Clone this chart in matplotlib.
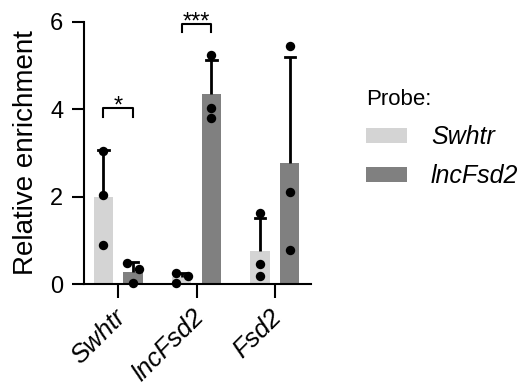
import numpy as np
import matplotlib
matplotlib.use("Agg")
import matplotlib.pyplot as plt
from matplotlib.patches import Patch
from matplotlib.transforms import ScaledTranslation

plt.rcParams['font.family'] = ['Liberation Sans', 'DejaVu Sans']

# Target loci (x-axis groups) and probes (bar series)
loci = ["Swhtr", "lncFsd2", "Fsd2"]
probes = ["Swhtr", "lncFsd2"]

# Individual replicate enrichments, per locus, per probe
swhtr_probe = [
    [3.04, 2.05, 0.89],   # Swhtr locus
    [0.25, 0.19, 0.04],   # lncFsd2 locus
    [1.63, 0.46, 0.19],   # Fsd2 locus
]
lncfsd2_probe = [
    [0.48, 0.34, 0.04],
    [5.24, 4.02, 3.79],
    [5.45, 2.11, 0.78],
]

# Horizontal spread of replicate dots inside each bar
swhtr_jitter = [[0.0, 0.0, 0.0], [-0.07, 0.08, -0.07], [0.0, 0.0, 0.0]]
lncfsd2_jitter = [[-0.08, 0.08, 0.0], [0.0, 0.0, 0.0], [0.0, 0.0, 0.0]]

# Significance annotations: (locus index, label, bracket height)
significance = [(0, "*", 4.03), (1, "***", 5.95)]

colors = ["#d4d4d4", "#808080"]
series = [swhtr_probe, lncfsd2_probe]
jitters = [swhtr_jitter, lncfsd2_jitter]

fig = plt.figure(figsize=(5.30, 3.89), dpi=100)
ax = fig.add_axes([0.1585, 0.269, 0.4275, 0.6757])

x = np.arange(len(loci))
width = 0.25
offsets = [-0.19, 0.19]

for vals, jit, col, off in zip(series, jitters, colors, offsets):
    arr = np.array(vals)
    means = arr.mean(axis=1)
    sds = arr.std(axis=1, ddof=1)
    pos = x + off
    ax.bar(pos, means, width=width, color=col, zorder=1)
    # upper-only SD error bars
    for p, m, sd in zip(pos, means, sds):
        ax.plot([p, p], [m, m + sd], color="black", lw=2, zorder=2,
                solid_capstyle="butt", clip_on=False)
        ax.plot([p - 0.065, p + 0.065], [m + sd, m + sd], color="black",
                lw=2, zorder=2, clip_on=False)
    for i, p in enumerate(pos):
        ax.scatter(p + np.array(jit[i]), arr[i], s=46, color="black",
                   zorder=3, clip_on=False, linewidths=0)

# significance brackets between the two probes of a locus
for idx, label, yb in significance:
    x0, x1 = idx + offsets[0], idx + offsets[1]
    ax.plot([x0, x0, x1, x1], [yb - 0.2, yb, yb, yb - 0.2], color="black",
            lw=1.5, clip_on=False)
    ax.text((x0 + x1) / 2, yb - 0.1, label, ha="center", va="baseline",
            fontsize=17, clip_on=False)

ax.set_xlim(-0.438, 2.457)
ax.set_ylim(0, 6)
ax.set_yticks([0, 2, 4, 6])
ax.set_xticks(x)
ax.set_xticklabels(loci, rotation=45, ha="right", rotation_mode="anchor",
                   fontstyle="italic", fontsize=18.5)
ax.tick_params(axis="y", labelsize=17, length=9, width=1.5, pad=6)
ax.tick_params(axis="x", length=10, width=1.5, pad=6)
ax.set_ylabel("Relative enrichment", fontsize=20, labelpad=8)

shift = ScaledTranslation(-0.05, 0.02, fig.dpi_scale_trans)
for lbl in ax.get_xticklabels():
    lbl.set_transform(lbl.get_transform() + shift)

for side in ["top", "right"]:
    ax.spines[side].set_visible(False)
for side in ["left", "bottom"]:
    ax.spines[side].set_linewidth(1.5)

handles = [Patch(facecolor=c, edgecolor="none") for c in colors]
leg = fig.legend(handles, probes, title="Probe:", loc="upper left",
                 bbox_to_anchor=(0.653, 0.822), frameon=False,
                 prop={"style": "italic", "size": 18}, title_fontsize=16,
                 handlelength=1.64, handleheight=0.56, handletextpad=0.96,
                 labelspacing=0.6, alignment="left", borderpad=0.3)

fig.savefig("out.png", dpi=100)
